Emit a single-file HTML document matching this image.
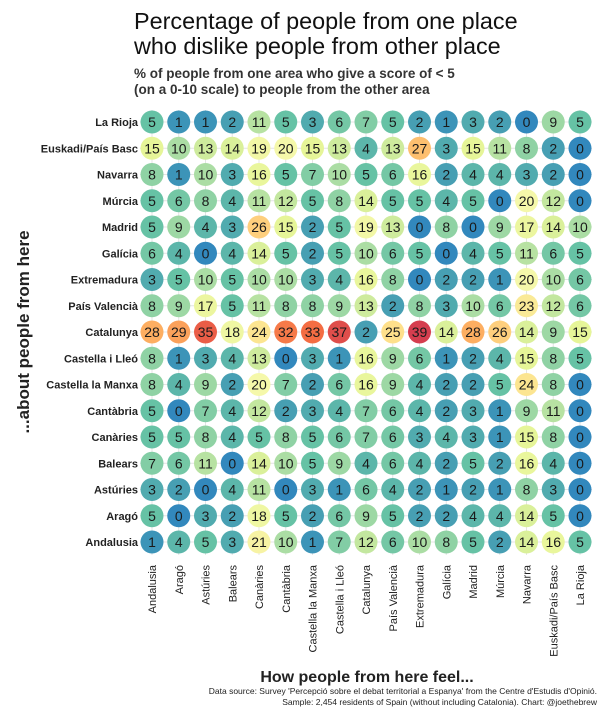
<!DOCTYPE html>
<html><head><meta charset="utf-8">
<style>
body{margin:0;background:#fff;width:604px;height:720px;overflow:hidden;font-family:"Liberation Sans",sans-serif;}
svg text{font-family:"Liberation Sans","DejaVu Sans",sans-serif;}
</style></head>
<body>
<svg id="chart" width="604" height="720">
<text x="134" y="29" font-size="23.4" fill="#111">Percentage of people from one place</text>
<text x="134" y="54" font-size="23.4" fill="#111">who dislike people from other place</text>
<text x="134" y="78" font-size="13.5" font-weight="bold" fill="#333">% of people from one area who give a score of &lt; 5</text>
<text x="134" y="94" font-size="13.5" font-weight="bold" fill="#333">(on a 0-10 scale) to people from the other area</text>
<text transform="translate(29,332) rotate(-90)" text-anchor="middle" font-size="17" font-weight="bold" fill="#222">...about people from here</text>
<text x="367" y="682" text-anchor="middle" font-size="16" font-weight="bold" fill="#222">How people from here feel...</text>
<text x="597" y="694" text-anchor="end" font-size="8.5" fill="#222">Data source: Survey 'Percepció sobre el debat territorial a Espanya' from the Centre d'Estudis d'Opinió.</text>
<text x="597" y="705" text-anchor="end" font-size="8.5" fill="#222">Sample: 2,454 residents of Spain (without including Catalonia). Chart: @joethebrew</text>
<g id="grid"></g><g id="marks"></g>
</svg>
<script>
const cols=["Andalusia","Aragó","Astúries","Balears","Canàries","Cantàbria","Castella la Manxa","Castella i Lleó","Catalunya","País Valencià","Extremadura","Galícia","Madrid","Múrcia","Navarra","Euskadi/País Basc","La Rioja"];
const rows=["La Rioja","Euskadi/País Basc","Navarra","Múrcia","Madrid","Galícia","Extremadura","País Valencià","Catalunya","Castella i Lleó","Castella la Manxa","Cantàbria","Canàries","Balears","Astúries","Aragó","Andalusia"];
const values=[
[5,1,1,2,11,5,3,6,7,5,2,1,3,2,0,9,5],
[15,10,13,14,19,20,15,13,4,13,27,3,15,11,8,2,0],
[8,1,10,3,16,5,7,10,5,6,16,2,4,4,3,2,0],
[5,6,8,4,11,12,5,8,14,5,5,4,5,0,20,12,0],
[5,9,4,3,26,15,2,5,19,13,0,8,0,9,17,14,10],
[6,4,0,4,14,5,2,5,10,6,5,0,4,5,11,6,5],
[3,5,10,5,10,10,3,4,16,8,0,2,2,1,20,10,6],
[8,9,17,5,11,8,8,9,13,2,8,3,10,6,23,12,6],
[28,29,35,18,24,32,33,37,2,25,39,14,28,26,14,9,15],
[8,1,3,4,13,0,3,1,16,9,6,1,2,4,15,8,5],
[8,4,9,2,20,7,2,6,16,9,4,2,2,5,24,8,0],
[5,0,7,4,12,2,3,4,7,6,4,2,3,1,9,11,0],
[5,5,8,4,5,8,5,6,7,6,3,4,3,1,15,8,0],
[7,6,11,0,14,10,5,9,4,6,4,2,5,2,16,4,0],
[3,2,0,4,11,0,3,1,6,4,2,1,2,1,8,3,0],
[5,0,3,2,18,5,2,6,9,5,2,2,4,4,14,5,0],
[1,4,5,3,21,10,1,7,12,6,10,8,5,2,14,16,5]
];
const NS="http://www.w3.org/2000/svg";
const x=i=>152+i*26.75, y=j=>122+j*26.25;
const stops=[[0,[50,136,189]],[5,[102,194,165]],[10,[171,221,164]],[15,[230,245,152]],[20,[245,248,170]],[25,[254,224,139]],[28,[253,174,97]],[33,[244,109,67]],[39,[213,62,79]]];
function color(v){for(let k=1;k<stops.length;k++){if(v<=stops[k][0]||k==stops.length-1){const a=stops[k-1],b=stops[k];let t=(v-a[0])/(b[0]-a[0]);t=Math.max(0,Math.min(1,t));return "rgb("+a[1].map((c,i)=>Math.round(c+(b[1][i]-c)*t)).join(",")+")";}}}
function mk(tag,attrs,parent){const e=document.createElementNS(NS,tag);for(const k in attrs)e.setAttribute(k,attrs[k]);parent.appendChild(e);return e;}
const grid=document.getElementById('grid'),marks=document.getElementById('marks');
cols.forEach((c,i)=>{
  const l=mk('line',{x1:x(i),x2:x(i),y1:110,y2:555,stroke:'#e4e4e4','stroke-width':1},grid);
  
  
  const t=mk('text',{transform:`translate(${x(i)+4},565) rotate(-90)`,'text-anchor':'end','font-size':11,fill:'#222'},grid);
  t.textContent=c;
  
  
});
rows.forEach((r,j)=>{
  const l=mk('line',{x1:140,x2:592,y1:y(j),y2:y(j),stroke:'#e4e4e4','stroke-width':1},grid);
  
  
  const t=mk('text',{x:138,y:y(j)+4,'text-anchor':'end','font-size':11,'font-weight':'bold',fill:'#222'},grid);
  t.textContent=r;
  
  
});
values.forEach((row,j)=>row.forEach((v,i)=>{
  const c=mk('circle',{cx:x(i),cy:y(j),r:11.5,fill:color(v)},marks);
  
  
  const t=mk('text',{x:x(i),y:y(j)+5,'text-anchor':'middle','font-size':14,fill:'#1a1a1a'},marks);
  t.textContent=v;
  
  
}));
</script>
</body></html>
